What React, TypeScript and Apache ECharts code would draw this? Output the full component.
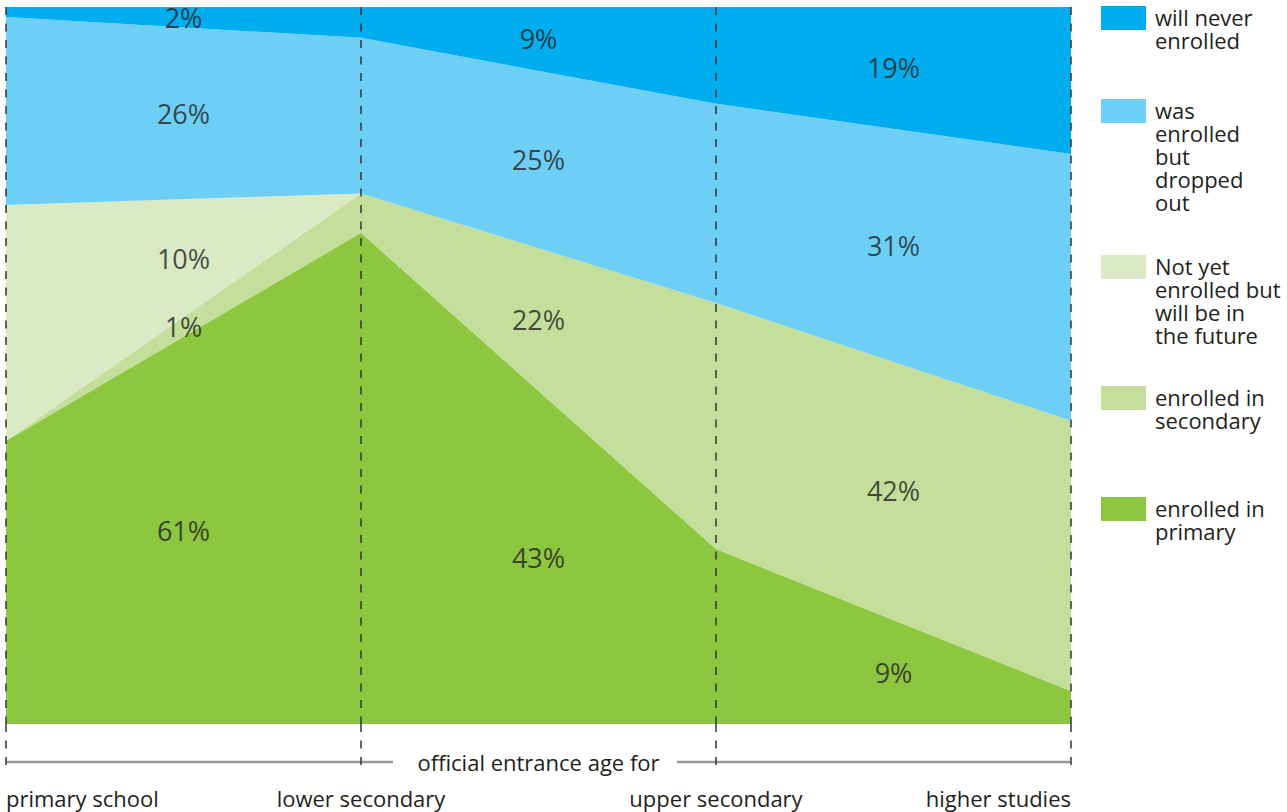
import React, { useEffect, useRef } from "react";
import * as echarts from "echarts";

// ---- data (percent of children, read at each official entrance age) ----
const categories = ["primary school", "lower secondary", "upper secondary", "higher studies"];

const enrolledPrimary = [39.5, 68.5, 24.4, 4.6];
const enrolledSecondary = [0, 5.5, 34.3, 37.7];
const notYetEnrolled = [32.9, 0, 0, 0];
const droppedOut = [26.2, 21.7, 27.8, 37.2];
const neverEnrolled = [1.5, 4.3, 13.5, 20.5];

// labels shown for each interval between two entrance ages
const primaryLabels = ["61%", "43%", "9%"];
const secondaryLabels = ["1%", "22%", "42%"];
const notYetLabels = ["10%", "", ""];
const droppedLabels = ["26%", "25%", "31%"];
const neverLabels = ["2%", "9%", "19%"];

const seriesNames = [
  "enrolled in primary",
  "enrolled in secondary",
  "Not yet enrolled but will be in the future",
  "was enrolled but dropped out",
  "will never enrolled",
];

const legendOrder = [4, 3, 2, 1, 0];
const legendLines = [
  ["enrolled in", "primary"],
  ["enrolled in", "secondary"],
  ["Not yet", "enrolled but", "will be in", "the future"],
  ["was", "enrolled", "but", "dropped", "out"],
  ["will never", "enrolled"],
];

const COLORS = ["#8dc63f", "#c4df9b", "#dbe9c4", "#6dcff6", "#00aeef"];
const TEXT = "#231f20";
const FONT = '"Open Sans", sans-serif';

export default function App() {
  const ref = useRef<HTMLDivElement>(null);

  useEffect(() => {
    if (!ref.current) return;
    const chart = echarts.init(ref.current, undefined, { renderer: "svg" });

    const layers = [enrolledPrimary, enrolledSecondary, notYetEnrolled, droppedOut, neverEnrolled];
    const labelSets = [primaryLabels, secondaryLabels, notYetLabels, droppedLabels, neverLabels];

    // label points: centre of each band at the middle of each interval
    const labelPoints: any[] = [];
    for (let s = 0; s < categories.length - 1; s++) {
      let bottom = 0;
      for (let k = 0; k < layers.length; k++) {
        const thick = (layers[k][s] + layers[k][s + 1]) / 2;
        const txt = labelSets[k][s];
        if (txt) labelPoints.push({ name: txt, value: [s + 0.5, bottom + thick / 2] });
        bottom += thick;
      }
    }

    const areaSeries = layers.map((d, k) => ({
      name: seriesNames[k],
      type: "line",
      stack: "total",
      data: d,
      symbol: "none",
      showSymbol: false,
      lineStyle: { width: 0, opacity: 0 },
      areaStyle: { color: COLORS[k], opacity: 1 },
      itemStyle: { color: COLORS[k] },
      silent: true,
      z: 2,
    }));

    const legendTops = [6, 99, 255, 386, 497];
    const legendGraphics: any[] = [];
    legendOrder.forEach((k, i) => {
      legendGraphics.push({
        type: "rect",
        shape: { x: 1101, y: legendTops[i], width: 45, height: 24 },
        style: { fill: COLORS[k] },
      });
      legendGraphics.push({
        type: "text",
        x: 1155,
        y: legendTops[i] - 1,
        style: {
          text: legendLines[k].join("\n"),
          fontSize: 22,
          lineHeight: 23,
          fontFamily: FONT,
          fill: TEXT,
          verticalAlign: "top",
          align: "left",
        },
      });
    });

    chart.setOption({
      animation: false,
      textStyle: { fontFamily: FONT },
      grid: {
        left: 6,
        right: 216,
        top: 7,
        bottom: 88,
        containLabel: false,
        outerBoundsMode: "none",
      },
      xAxis: [
        {
          type: "category",
          data: categories,
          boundaryGap: false,
          axisLine: { show: false },
          axisTick: {
            show: true,
            length: 46,
            alignWithLabel: true,
            lineStyle: { color: "#333", width: 1.5, type: [8, 8.5] },
          },
          splitLine: {
            show: true,
            lineStyle: { color: "#333", width: 1.5, type: [8, 8.5] },
          },
          axisLabel: {
            interval: 0,
            margin: 63,
            fontSize: 22,
            color: TEXT,
            fontFamily: FONT,
            showMinLabel: true,
            showMaxLabel: true,
            alignMinLabel: "left",
            alignMaxLabel: "right",
          },
          name: "official entrance age for",
          nameLocation: "middle",
          nameGap: 27,
          nameMoveOverlap: false,
          nameTextStyle: { fontSize: 22, color: TEXT, fontFamily: FONT },
          z: 5,
        },
        { type: "value", min: 0, max: 3, show: false },
      ],
      yAxis: { type: "value", min: 0, max: 100, show: false },
      series: [
        ...areaSeries,
        {
          type: "scatter",
          xAxisIndex: 1,
          yAxisIndex: 0,
          data: labelPoints,
          symbolSize: 1,
          itemStyle: { color: "rgba(0,0,0,0)" },
          silent: true,
          z: 10,
          label: {
            show: true,
            position: "inside",
            formatter: (p: any) => p.name,
            fontSize: 27,
            color: TEXT,
            fontFamily: FONT,
          },
        },
      ],
      graphic: [
        {
          type: "line",
          shape: { x1: 6, y1: 762, x2: 393, y2: 762 },
          style: { stroke: "#98989c", lineWidth: 2.5 },
        },
        {
          type: "line",
          shape: { x1: 677, y1: 762, x2: 1071, y2: 762 },
          style: { stroke: "#98989c", lineWidth: 2.5 },
        },
        ...legendGraphics,
      ],
    });

    return () => chart.dispose();
  }, []);

  return (
    <div
      ref={ref}
      style={{ position: "fixed", left: 0, top: 0, width: 1287, height: 812, background: "#fff" }}
    />
  );
}
